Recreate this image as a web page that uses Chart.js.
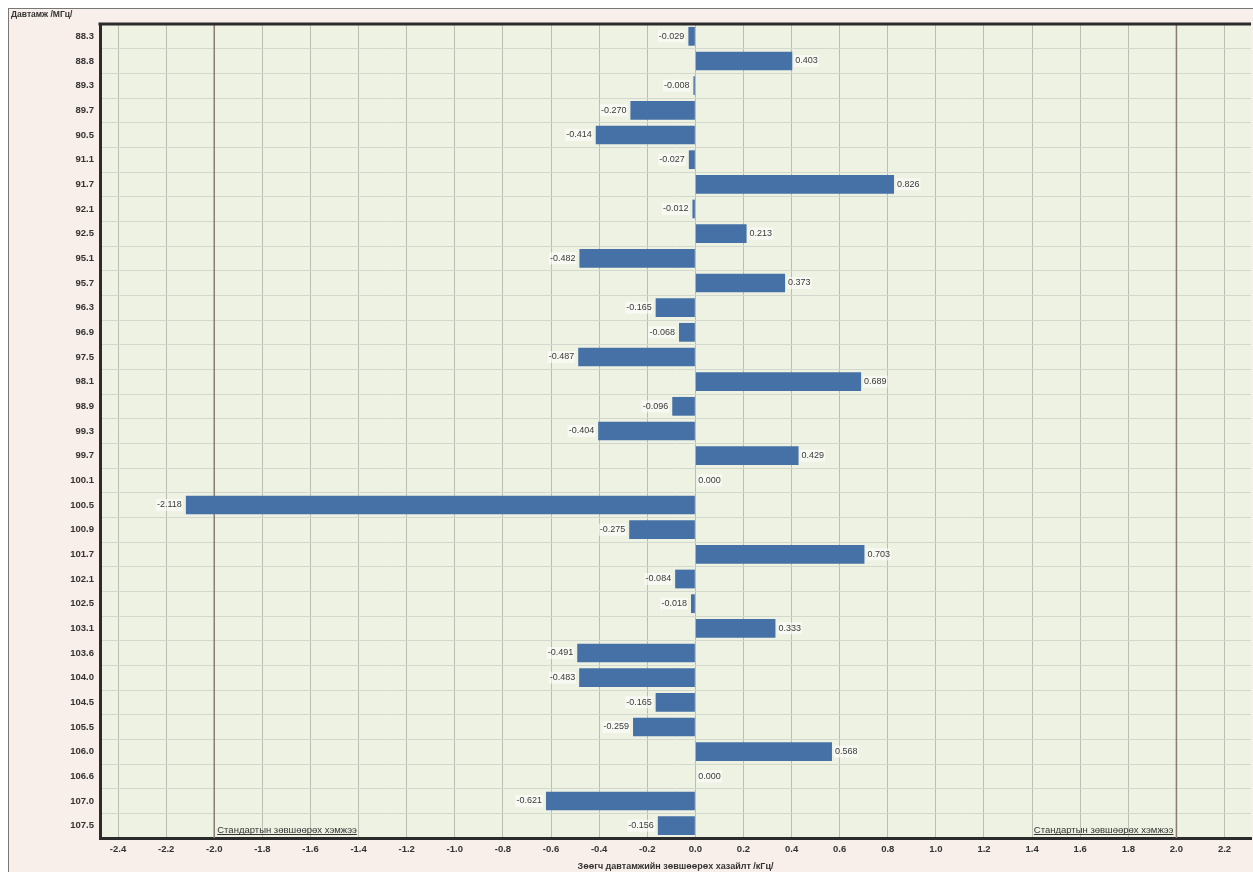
<!DOCTYPE html>
<html>
<head>
<meta charset="utf-8">
<script src="https://cdn.jsdelivr.net/npm/chart.js@4.4.0/dist/chart.umd.min.js"></script>
<style>
    html, body { margin: 0; padding: 0; background: #ffffff; }
    #wrap {
        position: absolute;
        left: 8px;
        top: 8px;
        width: 1245px;
        height: 864px;
        background: #f8eeea;
        border-left: 1px solid #777;
        border-top: 1px solid #777;
        box-sizing: border-box;
    }
</style>
</head>
<body>
<div id="wrap"><canvas id="myChart"></canvas></div>
<script>
    const frequencies = ['88.3', '88.8', '89.3', '89.7', '90.5', '91.1', '91.7', '92.1', '92.5', '95.1', '95.7',
        '96.3', '96.9', '97.5', '98.1', '98.9', '99.3', '99.7', '100.1', '100.5', '100.9', '101.7', '102.1',
        '102.5', '103.1', '103.6', '104.0', '104.5', '105.5', '106.0', '106.6', '107.0', '107.5'];
    const deviations = [-0.029, 0.403, -0.008, -0.270, -0.414, -0.027, 0.826, -0.012, 0.213, -0.482, 0.373,
        -0.165, -0.068, -0.487, 0.689, -0.096, -0.404, 0.429, 0.000, -2.118, -0.275, 0.703, -0.084,
        -0.018, 0.333, -0.491, -0.483, -0.165, -0.259, 0.568, 0.000, -0.621, -0.156];
    const xTicks = [-2.4, -2.2, -2.0, -1.8, -1.6, -1.4, -1.2, -1.0, -0.8, -0.6, -0.4, -0.2, 0.0,
        0.2, 0.4, 0.6, 0.8, 1.0, 1.2, 1.4, 1.6, 1.8, 2.0, 2.2];
    const standardLimits = [-2.0, 2.0];
    const standardLabel = 'Стандартын зөвшөөрөх хэмжээ';
    const yTitle = 'Давтамж /МГц/';
    const xTitle = 'Зөөгч давтамжийн зөвшөөрөх хазайлт /кГц/';

    const font = '"Liberation Sans", Arial, sans-serif';

    // plot background, frame, limit lines and value labels
    const decorations = {
        id: 'decorations',
        beforeDraw(chart) {
            const {ctx, chartArea} = chart;
            ctx.save();
            ctx.fillStyle = '#eef2e3';
            ctx.fillRect(chartArea.left, chartArea.top, chartArea.right - chartArea.left, chartArea.bottom - chartArea.top);
            ctx.restore();
        },
        beforeDatasetsDraw(chart) {
            const {ctx, chartArea, scales} = chart;
            ctx.save();
            ctx.strokeStyle = '#8c7b70';
            ctx.lineWidth = 1.5;
            standardLimits.forEach((v) => {
                const x = scales.x.getPixelForValue(v);
                ctx.beginPath();
                ctx.moveTo(x, chartArea.top);
                ctx.lineTo(x, chartArea.bottom);
                ctx.stroke();
            });
            ctx.restore();
        },
        afterDatasetsDraw(chart) {
            const {ctx, chartArea, scales} = chart;
            const meta = chart.getDatasetMeta(0);
            ctx.save();
            ctx.font = '9px ' + font;
            ctx.textBaseline = 'middle';
            meta.data.forEach((bar, i) => {
                const v = deviations[i];
                const text = v.toFixed(3);
                const w = ctx.measureText(text).width;
                let x;
                if (v < 0) {
                    x = bar.x - 4 - w;
                } else {
                    x = bar.x + 3;
                }
                ctx.fillStyle = 'rgba(255,255,255,0.55)';
                ctx.fillRect(x - 1, bar.y - 6, w + 2, 12);
                ctx.fillStyle = '#3a3a3a';
                ctx.textAlign = 'left';
                ctx.fillText(text, x, bar.y);
            });

            // standard limit labels
            ctx.font = '9.5px ' + font;
            ctx.fillStyle = '#333';
            ctx.textBaseline = 'alphabetic';
            const ty = chartArea.bottom - 5;
            const tw = ctx.measureText(standardLabel).width;
            const lx = scales.x.getPixelForValue(standardLimits[0]) + 3;
            const rx = scales.x.getPixelForValue(standardLimits[1]) - 3 - tw;
            [lx, rx].forEach((x) => {
                ctx.fillText(standardLabel, x, ty);
                ctx.fillRect(x, ty + 1, tw, 1);
            });

            // frame: top border
            ctx.fillStyle = '#2b2b2b';
            ctx.fillRect(chartArea.left - 1.5, chartArea.top - 1.5, chartArea.right - chartArea.left + 1.5, 3);

            // y axis title
            ctx.font = 'bold 8.5px ' + font;
            ctx.fillStyle = '#333';
            ctx.textBaseline = 'top';
            ctx.fillText(yTitle, 2, 1);
            ctx.restore();
        }
    };

    const ctx = document.getElementById('myChart');
    new Chart(ctx, {
        type: 'bar',
        data: {
            labels: frequencies,
            datasets: [
                {
                    label: 'Хазайлт',
                    data: deviations,
                    backgroundColor: '#4671a7',
                    borderWidth: 0,
                    barPercentage: 0.76,
                    categoryPercentage: 1.0,
                },
            ],
        },
        options: {
            indexAxis: 'y',
            responsive: true,
            maintainAspectRatio: false,
            animation: false,
            layout: {padding: {left: 0, top: 15, right: 2, bottom: 0}},
            plugins: {
                legend: {display: false},
                tooltip: {enabled: false},
            },
            scales: {
                x: {
                    type: 'linear',
                    min: -2.475,
                    max: 2.31,
                    afterBuildTicks: (axis) => {
                        axis.ticks = xTicks.map((v) => ({value: v}));
                    },
                    afterFit: (axis) => {
                        axis.height = 34;
                    },
                    grid: {
                        color: '#b9beb4',
                        lineWidth: 1,
                        drawTicks: false,
                    },
                    border: {display: true, color: '#2b2b2b', width: 3},
                    ticks: {
                        padding: 6,
                        color: '#333',
                        font: {family: font, size: 9.5, weight: 'bold'},
                        callback: (v) => Number(v).toFixed(1),
                    },
                    title: {
                        display: true,
                        text: xTitle,
                        color: '#333',
                        font: {family: font, size: 9, weight: 'bold'},
                        padding: {top: 1, bottom: 0},
                    },
                },
                y: {
                    type: 'category',
                    offset: true,
                    afterFit: (axis) => {
                        axis.width = 91;
                    },
                    grid: {
                        color: '#d2d8cb',
                        lineWidth: 1,
                        offset: true,
                        drawTicks: false,
                    },
                    border: {display: true, color: '#2b2b2b', width: 3},
                    ticks: {
                        padding: 6,
                        color: '#333',
                        font: {family: font, size: 9.5, weight: 'bold'},
                    },
                },
            },
        },
        plugins: [decorations],
    });
</script>
</body>
</html>
